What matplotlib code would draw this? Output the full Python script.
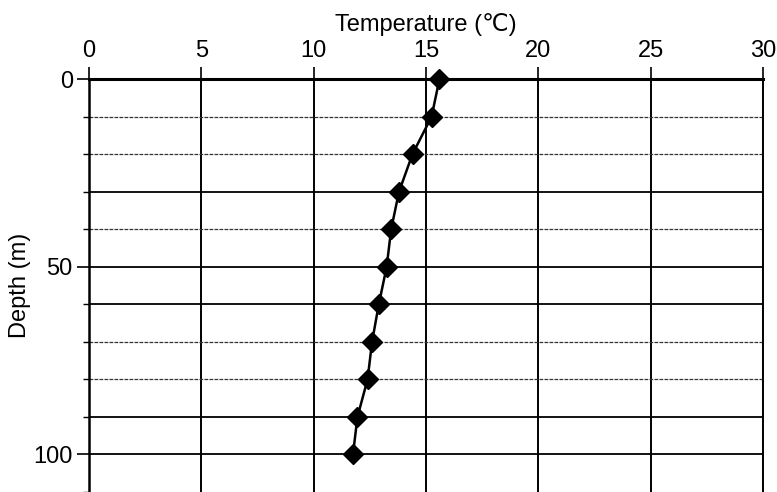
import matplotlib
matplotlib.use("Agg")
import matplotlib.pyplot as plt
from matplotlib.ticker import MultipleLocator

plt.rcParams['font.family'] = ['Liberation Sans Narrow', 'Liberation Sans', 'DejaVu Sans']

# depth profile
depth = [0, 10, 20, 30, 40, 50, 60, 70, 80, 90, 100]
temp = [15.6, 15.25, 14.4, 13.8, 13.45, 13.25, 12.9, 12.6, 12.4, 11.95, 11.75]

x_ticks = [0, 5, 10, 15, 20, 25, 30]
y_ticks = [0, 50, 100]
solid_rows = [30, 50, 60, 90, 100]
dotted_rows = [10, 20, 40, 70, 80]

fig = plt.figure(figsize=(7.77, 4.92), dpi=100)
ax = fig.add_axes([0.1145, 0.0, 0.8675, 0.8394])

ax.set_xlim(0, 30)
ax.set_ylim(110, 0)

# grid
for x in x_ticks[1:]:
    ax.axvline(x, color='black', lw=1.4, zorder=1)
for d in solid_rows:
    ax.axhline(d, color='black', lw=1.3, zorder=1)
for d in dotted_rows:
    ax.axhline(d, color='#333333', lw=0.9, ls=(0, (3, 1)), zorder=1)

ax.plot(temp, depth, color='black', lw=1.8, marker='D', ms=10,
        markerfacecolor='black', markeredgecolor='black', zorder=3, clip_on=False)

ax.xaxis.tick_top()
ax.xaxis.set_label_position('top')
ax.set_xticks(x_ticks)
ax.set_yticks(y_ticks)
ax.yaxis.set_minor_locator(MultipleLocator(10))

ax.tick_params(axis='x', which='major', direction='out', length=8.6, width=1.2,
               pad=4, labelsize=17)
ax.tick_params(axis='y', which='major', direction='out', length=8.6, width=1.2,
               pad=3, labelsize=17)
ax.tick_params(axis='y', which='minor', direction='out', length=4, width=1.0)

ax.set_xlabel('Temperature (℃)', fontsize=17, labelpad=6)
ax.set_ylabel('Depth (m)', fontsize=17, labelpad=2)

ax.spines['top'].set_linewidth(2.2)
ax.spines['left'].set_linewidth(1.8)
ax.spines['right'].set_linewidth(1.4)
ax.spines['bottom'].set_visible(False)

fig.savefig('out.png', dpi=100)
